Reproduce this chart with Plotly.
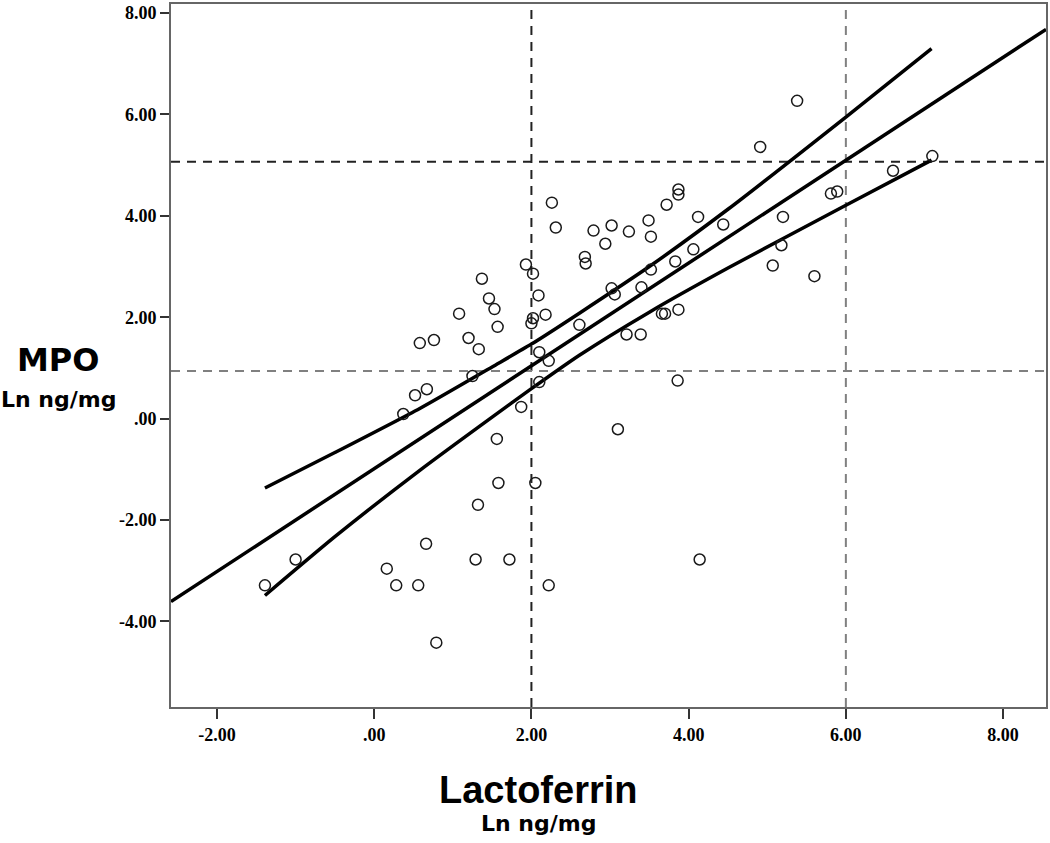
import plotly.graph_objects as go

# Scatter data (Ln ng/mg)
lactoferrin = [-1.39, -1.00, 0.16, 0.28, 0.56, 0.66, 0.79, 1.29, 1.32, 1.58, 1.72, 2.22, 2.05, 4.14,
               1.56, 1.87, 2.10, 3.10, 3.86, 0.37, 0.52, 0.67, 1.25, 0.58, 0.76, 1.08, 1.20, 1.33,
               1.37, 1.46, 1.53, 1.57, 1.93, 2.02, 2.09, 2.18, 2.02, 2.00, 2.10, 2.22, 2.26, 2.31,
               2.61, 2.68, 2.69, 2.79, 2.94, 3.02, 3.24, 3.49, 3.52, 3.72, 3.87, 3.87, 3.02, 3.06,
               3.40, 3.52, 3.21, 3.39, 3.66, 3.70, 3.87, 3.83, 4.06, 4.12, 4.44, 4.91, 5.38, 5.07,
               5.18, 5.20, 5.60, 5.81, 5.89, 6.60, 7.10]
mpo = [-3.29, -2.78, -2.96, -3.29, -3.29, -2.47, -4.42, -2.78, -1.70, -1.27, -2.78, -3.29, -1.27, -2.78,
       -0.40, 0.23, 0.72, -0.21, 0.75, 0.09, 0.46, 0.58, 0.84, 1.49, 1.55, 2.07, 1.59, 1.37,
       2.76, 2.37, 2.16, 1.81, 3.04, 2.86, 2.43, 2.05, 1.98, 1.88, 1.31, 1.14, 4.26, 3.77,
       1.85, 3.19, 3.06, 3.71, 3.45, 3.81, 3.69, 3.91, 3.59, 4.22, 4.52, 4.42, 2.57, 2.45,
       2.59, 2.94, 1.66, 1.66, 2.07, 2.07, 2.15, 3.10, 3.34, 3.98, 3.83, 5.36, 6.27, 3.02,
       3.42, 3.98, 2.81, 4.44, 4.48, 4.89, 5.18]

# Fit line and confidence band
fit_x = [-2.585, 8.546]
fit_y = [-3.61, 7.68]
ci_x = [-1.39, -0.50, 0.58, 1.50, 2.00, 2.61, 3.50, 4.50, 6.00, 7.09]
ci_upper = [-1.37, -0.67, 0.20, 1.02, 1.47, 2.08, 3.00, 4.13, 5.95, 7.30]
ci_lower = [-3.49, -2.33, -1.02, 0.03, 0.59, 1.25, 2.10, 2.97, 4.21, 5.10]

# Reference (cut-off) lines
ref_x_black, ref_x_gray = 2.0, 6.0
ref_y_black, ref_y_gray = 5.07, 0.94

x_ticks = [-2, 0, 2, 4, 6, 8]
x_ticktext = ["-2.00", ".00", "2.00", "4.00", "6.00", "8.00"]
y_ticks = [-4, -2, 0, 2, 4, 6, 8]
y_ticktext = ["-4.00", "-2.00", ".00", "2.00", "4.00", "6.00", "8.00"]

X_RANGE = [-2.585, 8.546]
Y_RANGE = [-5.69, 8.18]

fig = go.Figure()

fig.add_trace(go.Scatter(x=fit_x, y=fit_y, mode="lines",
                         line=dict(color="black", width=3.5), showlegend=False))
fig.add_trace(go.Scatter(x=ci_x, y=ci_upper, mode="lines",
                         line=dict(color="black", width=3.5, shape="spline", smoothing=0.6), showlegend=False))
fig.add_trace(go.Scatter(x=ci_x, y=ci_lower, mode="lines",
                         line=dict(color="black", width=3.5, shape="spline", smoothing=0.6), showlegend=False))
fig.add_trace(go.Scatter(x=lactoferrin, y=mpo, mode="markers",
                         marker=dict(symbol="circle-open", size=11, color="#1a1a1a",
                                     line=dict(width=1.5, color="#1a1a1a")),
                         showlegend=False))

dash = "9px,7px"
fig.add_shape(type="line", xref="x", yref="paper", x0=ref_x_black, x1=ref_x_black, y0=0, y1=1,
              line=dict(color="#222222", width=2, dash=dash), layer="below")
fig.add_shape(type="line", xref="x", yref="paper", x0=ref_x_gray, x1=ref_x_gray, y0=0, y1=1,
              line=dict(color="#808080", width=2, dash=dash), layer="below")
fig.add_shape(type="line", xref="paper", yref="y", x0=0, x1=1, y0=ref_y_black, y1=ref_y_black,
              line=dict(color="#222222", width=2, dash=dash), layer="below")
fig.add_shape(type="line", xref="paper", yref="y", x0=0, x1=1, y0=ref_y_gray, y1=ref_y_gray,
              line=dict(color="#808080", width=2, dash=dash), layer="below")

tickfont = dict(family="Liberation Serif", size=18, color="black", weight="bold")
fig.update_xaxes(range=X_RANGE, tickvals=x_ticks, ticktext=x_ticktext, ticks="outside",
                 ticklen=10, tickwidth=2, tickcolor="#333333", showgrid=False, zeroline=False,
                 showline=True, linecolor="#666666", linewidth=2, mirror=True,
                 tickfont=tickfont)
fig.update_yaxes(range=Y_RANGE, tickvals=y_ticks, ticktext=y_ticktext, ticks="outside",
                 ticklen=9, tickwidth=2, tickcolor="#333333", showgrid=False, zeroline=False,
                 showline=True, linecolor="#666666", linewidth=2, mirror=True,
                 tickfont=tickfont)

fig.add_annotation(text="<b>Lactoferrin</b>", xref="paper", yref="paper", x=0.419, y=-0.118,
                   xanchor="center", yanchor="middle", showarrow=False,
                   font=dict(family="Liberation Sans", size=38, color="black"))
fig.add_annotation(text="<b>Ln ng/mg</b>", xref="paper", yref="paper", x=0.420, y=-0.166,
                   xanchor="center", yanchor="middle", showarrow=False,
                   font=dict(family="DejaVu Sans", size=22, color="black"))
fig.add_annotation(text="<b>MPO</b>", xref="paper", yref="paper", x=-0.129, y=0.494,
                   xanchor="center", yanchor="middle", showarrow=False,
                   font=dict(family="DejaVu Sans", size=32, color="black"))
fig.add_annotation(text="<b>Ln ng/mg</b>", xref="paper", yref="paper", x=-0.129, y=0.438,
                   xanchor="center", yanchor="middle", showarrow=False,
                   font=dict(family="DejaVu Sans", size=22, color="black"))

fig.update_layout(width=1050, height=843, margin=dict(l=171, r=3, t=2, b=136),
                  plot_bgcolor="white", paper_bgcolor="white")

fig.write_html("out.html", config={"displayModeBar": False},
               post_script="document.body.style.margin='0';")
